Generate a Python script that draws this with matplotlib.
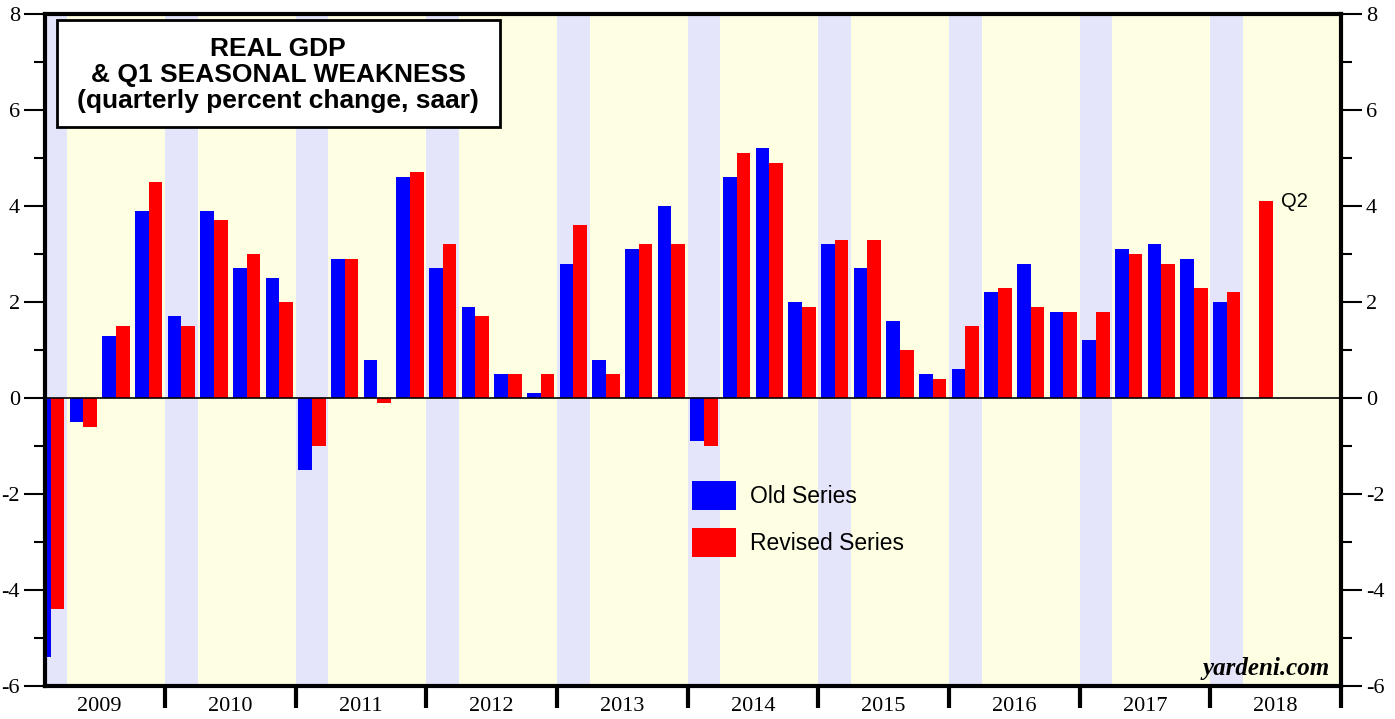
import matplotlib
import numpy as np

matplotlib.use("Agg")
import matplotlib.pyplot as plt
from matplotlib.patches import Patch, Rectangle
from matplotlib.ticker import FixedLocator, NullFormatter

plt.rcParams["axes.unicode_minus"] = False

# quarterly real GDP growth, % saar, 2009Q1 .. 2018Q2
years = list(range(2009, 2019))
old_series = [-5.4, -0.5, 1.3, 3.9,
              1.7, 3.9, 2.7, 2.5,
              -1.5, 2.9, 0.8, 4.6,
              2.7, 1.9, 0.5, 0.1,
              2.8, 0.8, 3.1, 4.0,
              -0.9, 4.6, 5.2, 2.0,
              3.2, 2.7, 1.6, 0.5,
              0.6, 2.2, 2.8, 1.8,
              1.2, 3.1, 3.2, 2.9,
              2.0]
revised_series = [-4.4, -0.6, 1.5, 4.5,
                  1.5, 3.7, 3.0, 2.0,
                  -1.0, 2.9, -0.1, 4.7,
                  3.2, 1.7, 0.5, 0.5,
                  3.6, 0.5, 3.2, 3.2,
                  -1.0, 5.1, 4.9, 1.9,
                  3.3, 3.3, 1.0, 0.4,
                  1.5, 2.3, 1.9, 1.8,
                  1.8, 3.0, 2.8, 2.3,
                  2.2, 4.1]
y_ticks = [-6, -4, -2, 0, 2, 4, 6, 8]

BLUE = "#0000FF"
RED = "#FF0000"
Q1_SHADE = "#E4E4FA"
BG = "#FEFEE3"
SERIF = "Liberation Serif"
SANS = "Liberation Sans"

fig = plt.figure(figsize=(13.95, 7.19), dpi=100)
ax = fig.add_axes([45 / 1395, 1 - 686 / 719, 1296 / 1395, 672 / 719])
ax.set_facecolor(BG)

# Q1 bands
for k in range(len(years)):
    ax.axvspan(4 * k, 4 * k + 1, color=Q1_SHADE, lw=0, zorder=0)

w = 0.42
xo = np.arange(len(old_series)) + 0.5
xr = np.arange(len(revised_series)) + 0.5
ax.bar(xo - w / 2, old_series, width=w, color=BLUE, lw=0, zorder=2)
ax.bar(xr + w / 2, revised_series, width=w, color=RED, lw=0, zorder=2)
ax.axhline(0, color="black", lw=1.2, zorder=3)

ax.set_xlim(0.33, 4 * len(years))
ax.set_ylim(-6, 8)

for s in ax.spines.values():
    s.set_linewidth(3)
    s.set_zorder(5)

# y axis, both sides
ax.set_yticks(y_ticks)
ax.yaxis.set_minor_locator(FixedLocator([-5, -3, -1, 1, 3, 5, 7]))
ax.tick_params(axis="y", which="major", length=15, width=1.5, direction="out",
               left=True, right=True, labelleft=True, labelright=True,
               labelsize=16, pad=3)
ax.tick_params(axis="y", which="minor", length=8, width=1.5, direction="out",
               left=True, right=True)
for lab in ax.get_yticklabels():
    lab.set_family(SERIF)

# x axis: year boundaries as ticks, labels centred in year
ax.xaxis.set_major_locator(FixedLocator([4 * k for k in range(1, len(years) + 1)]))
ax.xaxis.set_major_formatter(NullFormatter())
ax.xaxis.set_minor_locator(FixedLocator([4 * k + 2 for k in range(len(years))]))
ax.set_xticklabels([str(y) for y in years], minor=True)
ax.tick_params(axis="x", which="major", length=16, width=3, direction="out")
ax.tick_params(axis="x", which="minor", length=0, labelsize=16, pad=8)
for lab in ax.get_xticklabels(minor=True):
    lab.set_family(SERIF)

# title box
ax.add_patch(Rectangle((0.0093, 0.832), 0.342, 0.159, transform=ax.transAxes,
                       facecolor="white", edgecolor="black", lw=2, zorder=6))
ax.text(0.180, 0.909, "REAL GDP\n& Q1 SEASONAL WEAKNESS\n(quarterly percent change, saar)",
        transform=ax.transAxes, ha="center", va="center", fontsize=19,
        fontweight="bold", family=SANS, linespacing=1.12, zorder=7)

ax.text(len(revised_series) + 0.15, revised_series[-1], "Q2", ha="left", va="center",
        fontsize=14.5, family=SANS, zorder=7)

ax.text(0.9915, 0.016, "yardeni.com", transform=ax.transAxes, ha="right",
        va="baseline", fontsize=18, fontweight="bold", style="italic",
        family=SERIF, zorder=7)

handles = [Patch(facecolor=BLUE, edgecolor="none"), Patch(facecolor=RED, edgecolor="none")]
ax.legend(handles, ["Old Series", "Revised Series"], loc="upper left",
          bbox_to_anchor=(0.499, 0.305), frameon=False, borderpad=0, borderaxespad=0,
          handlelength=1.95, handleheight=1.55, handletextpad=0.6, labelspacing=0.8,
          prop={"family": SANS, "size": 16.5})

fig.savefig("out.png", dpi=100, facecolor="white")
